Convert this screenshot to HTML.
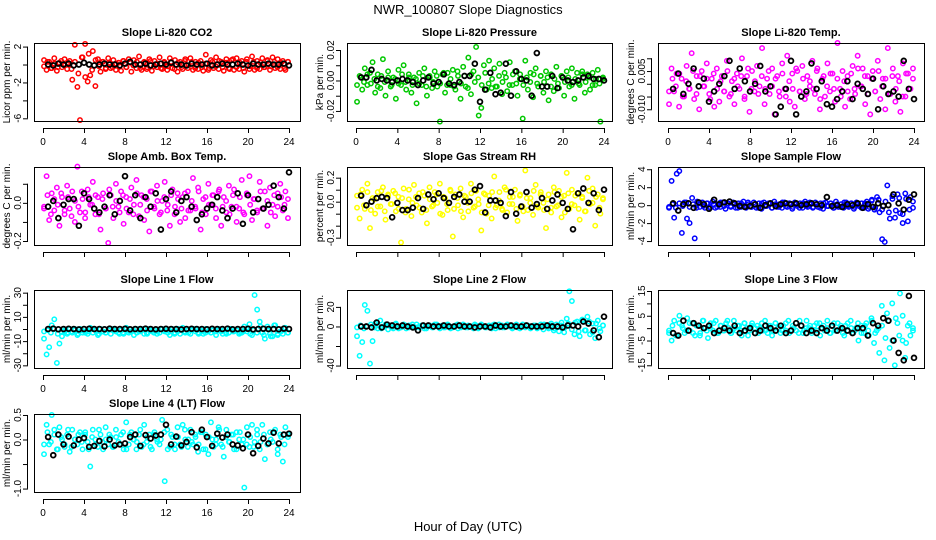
<!DOCTYPE html>
<html><head><meta charset="utf-8"><style>
body{margin:0;background:#fff;}
svg{display:block;font-family:"Liberation Sans",sans-serif;}
</style></head><body>
<svg id="chart" width="936" height="540" xmlns="http://www.w3.org/2000/svg">
<text x="468" y="14" text-anchor="middle" font-size="13">NWR_100807  Slope Diagnostics</text>
<text x="468" y="531" text-anchor="middle" font-size="13">Hour of Day (UTC)</text>
</svg>
<script>
const titles=["Slope Li-820 CO2","Slope Li-820 Pressure","Slope Li-820 Temp.","Slope Amb. Box Temp.","Slope Gas Stream RH","Slope Sample Flow","Slope Line 1 Flow","Slope Line 2 Flow","Slope Line 3 Flow","Slope Line 4 (LT) Flow"];
const yTitles=["Licor ppm per min.","kPa per min.","degrees C per min.","degrees C per min.","percent per min.","ml/min per min.","ml/min per min.","ml/min per min.","ml/min per min.","ml/min per min."];
const colors=["#ff0000","#00c800","#ff00ff","#ff00ff","#ffff00","#0000ff","#00ffff","#00ffff","#00ffff","#00ffff"];
const scales=[1,0.001,0.001,0.01,0.01,1,1,1,1,1];
const yLims=[[-6.3,2.4],[-0.0266,0.0246],[-0.0146,0.016],[-0.221,0.188],[-0.361,0.289],[-4.44,4.25],[-32.2,32.2],[-42.5,37.3],[-16.1,15.4],[-1.07,0.52]];
const yTicks=[[-6,-4,-2,0,2],[-0.02,-0.01,0,0.01,0.02],[-0.01,-0.005,0,0.005,0.01],[-0.2,-0.1,0,0.1],[-0.3,-0.2,-0.1,0,0.1,0.2],[-4,-2,0,2,4],[-30,-20,-10,0,10,20,30],[-40,-20,0,20],[-15,-10,-5,0,5,10,15],[-1,-0.5,0,0.5]];
const yTickLabels=[["-6","","-2","","2"],["-0.02","","0.00","","0.02"],["-0.010","","","0.005",""],["-0.2","","0.0",""],["-0.3","","","0.0","","0.2"],["-4","-2","0","2","4"],["-30","","-10","","10","","30"],["-40","","0","20"],["-15","","-5","","5","","15"],["-1.0","","0.0","0.5"]];
const xTicks=[0,4,8,12,16,20,24];
const colored=[
[0.5,-0.6,0.3,-0.4,0.7,-0.7,0.2,-0.3,0.6,-0.5,0.4,-1.7,2.2,-2.5,-6.2,0.8,2.3,-1.9,-1.2,1.5,-2.4,0.6,-0.8,0.3,-0.5,0.7,-0.4,0.5,-0.6,0.2,-0.7,0.4,-0.3,0.6,-0.8,0.5,-0.4,0.9,-0.6,0.3,-0.5,0.6,-0.7,0.4,-0.3,0.8,-0.5,0.2,-0.6,0.7,-0.4,0.5,-0.8,0.3,-0.5,0.6,-0.4,0.7,-0.6,0.3,-0.5,0.4,-0.7,1.1,-0.6,0.5,-0.4,0.8,-0.5,0.3,-0.7,0.6,-0.4,0.5,-0.6,0.7,-0.5,0.4,-0.8,0.6,-0.5,0.9,-0.6,0.4,-0.5,0.7,-0.3,0.5,-0.6,0.8,-0.4,0.6,-0.5,0.4,-0.6,0.3],
[-14,3,-6,8,-3,5,12,-8,4,-5,14,-10,6,-4,2,-12,7,-3,10,-6,4,-8,2,-15,5,-3,8,-10,3,-5,6,-4,-27,4,-8,5,-3,7,-6,3,-12,9,-4,15,-9,6,22,-23,-18,10,-6,13,-5,8,-4,11,-9,5,-7,12,-3,6,-10,4,-25,13,-6,5,-11,8,-4,3,-8,6,-13,4,-7,9,-5,3,-10,6,-4,8,-12,5,-3,6,-8,4,-6,5,-3,7,-27,2],
[-8,6,-3,4,-9,2,-5,7,-2,12,-6,3,-10,5,-1,8,-4,2,-9,6,-7,3,-3,9,-5,1,-8,4,-2,10,-6,3,-11,5,-3,7,-1,14,-8,2,-4,6,-12,3,-5,8,-2,11,-7,4,-9,5,-3,7,-6,3,-1,9,-4,6,-10,2,-5,8,-3,4,-7,16,-2,5,-9,3,-6,7,-4,11,-1,6,-8,3,-12,5,-3,9,-6,2,-10,14,-4,6,-7,3,-11,8,-5,4,-2,6],
[-2,14,-9,5,-4,8,-12,3,-6,9,-3,6,-10,19,-5,2,-8,7,-1,11,-6,3,-14,5,-3,-21,4,-8,10,-2,6,-11,3,-5,8,-1,12,-7,4,-9,2,-15,6,-3,9,-6,1,11,-4,-12,7,-2,5,-10,3,-8,6,-4,13,-3,8,-14,2,-6,10,-1,4,-8,6,-12,3,-5,9,-2,7,-10,-3,12,-6,4,14,-9,2,-5,11,-3,6,-12,8,-1,-7,5,10,-4,6,-8],
[5,-14,10,-6,15,-22,3,-10,8,-4,12,-15,6,-2,9,-8,4,-34,11,-6,2,-12,14,-3,7,-9,5,-18,12,-4,8,-1,15,-11,3,-7,10,-29,6,-3,11,-13,4,-8,15,-5,9,-2,-24,7,-10,5,-14,21,-3,8,-6,12,-9,4,-2,10,-16,6,-4,26,-7,3,-11,14,-5,8,-1,-22,6,-9,12,-4,9,-13,5,24,-6,10,-3,7,-15,4,-8,20,-2,11,-20,6,-10,3],
[-0.3,2.7,-1.4,3.5,3.8,-3.1,0.3,-1.5,-2.0,0.8,-3.7,0.4,-0.2,0.3,-0.3,0.2,-0.2,0.4,-0.3,0.1,-0.2,0.3,-0.4,0.2,-0.1,0.3,-0.3,0.2,-0.2,0.4,-0.3,0.1,-0.2,0.3,-0.3,0.2,-0.4,0.3,-0.1,0.2,-0.3,0.4,-0.2,0.1,-0.3,0.3,-0.2,0.2,-0.4,0.3,-0.1,0.2,-0.3,0.4,-0.2,0.1,-0.3,0.3,-0.2,0.2,-0.4,0.3,-0.1,0.2,-0.3,0.4,-0.2,0.1,-0.3,0.3,-0.2,0.2,-0.4,0.3,-0.1,0.2,-0.3,0.4,-0.2,0.6,-0.5,0.9,-0.8,-3.8,-4.1,2.2,-1.5,0.7,-1.4,1.2,-0.9,-2.0,1.3,-1.8,0.9,-0.3],
[-8,-21,-15,3,8,-28,-12,-6,-2,-4,0,-3,-1,-5,0,-3,-2,-4,1,-3,-1,-5,0,-2,-3,-1,-4,0,-2,-3,-1,-4,1,-3,-2,-5,0,-2,-1,-4,-3,0,-2,-1,-4,-3,0,-2,-1,-5,0,-3,-2,-4,1,-3,-1,-4,0,-2,-3,-1,-4,0,-2,-3,-1,-5,0,-2,-1,-4,-3,0,-2,-1,-4,-3,2,-2,4,-5,28,16,6,-3,-8,2,-4,-6,3,-5,-2,-4,1,-3],
[-10,-30,-16,22,16,-38,-15,3,-2,6,-1,2,-3,1,-2,3,0,-1,2,-2,1,0,-1,2,-1,1,-2,0,1,-1,2,0,-2,1,-1,2,0,-1,1,-2,0,2,-1,1,0,-2,1,-1,2,0,-1,1,-2,2,0,-1,1,-1,2,0,-2,1,-1,0,2,-1,1,-2,0,1,-1,2,-3,1,-2,3,-4,2,-5,4,-6,8,36,26,-8,5,-10,7,-4,10,-8,3,-12,6,-5,1],
[-1,-5,3,-3,5,1,-2,4,-1,2,-3,1,-2,3,0,-4,2,-1,3,-2,1,-1,2,0,-2,3,-1,1,-3,2,0,-1,2,-2,1,0,-1,3,-2,1,-1,2,0,-2,1,-1,3,-1,0,2,-2,1,-1,3,0,-2,1,-1,2,0,-1,3,-2,1,-1,2,0,-2,1,-1,3,-2,0,-5,1,-2,2,-3,4,-6,-1,-10,9,-13,6,-8,10,-15,2,14,-5,-12,1,-3,0],
[-0.3,0.3,-0.1,0.5,0.2,-0.2,0.25,0,-0.15,0.1,-0.25,0.2,0,-0.1,0.15,-0.2,0.1,-0.05,-0.55,0.2,0,-0.15,0.1,-0.2,0.25,-0.1,0.05,-0.15,0.2,-0.05,0.1,-0.2,0.35,-0.1,0.15,0,-0.2,0.1,-0.15,0.3,-0.05,0.1,-0.2,0.15,0,-0.1,0.4,-0.85,0.2,-0.15,0.05,-0.2,0.25,-0.1,0.3,0,-0.15,0.2,-0.1,0.05,-0.25,0.15,-0.2,0.1,-0.3,0.35,-0.15,0,0.25,-0.1,-0.35,0.2,-0.05,0.1,-0.2,0.15,0,-0.1,-0.98,0.25,-0.15,0.3,-0.05,0.1,-0.2,0.3,-0.4,-0.1,0.15,-0.05,0.2,-0.3,0.1,-0.45,0.25,0.05]
];
// second dense set of samples (band core)
const colored2=[
[-0.2,0.3,-0.4,0.1,-0.3,0.4,-0.1,0.2,-0.5,0.3,-1.0,0.8,-1.4,1.2,-0.6,0.5,-0.2,0.3,-0.4,0.2,-0.3,0.1,-0.2,0.4,-0.3,0.2,-0.1,0.3,-0.4,0.2,-0.3,0.4,-0.2,0.1,-0.4,0.3,-0.2,0.3,-0.5,0.2,-0.3,0.4,-0.1,0.3,-0.4,0.2,-0.3,0.1,-0.4,0.3,-0.2,0.4,-0.3,0.2,-0.5,0.6,-0.3,0.2,-0.4,0.3,-0.2,0.3,-0.4,0.2,-0.3,0.4,-0.2,0.3,-0.3,0.2,-0.4,0.3],
[-3,2,-1,4,-2,1,-4,3,-1,2,-3,1,-2,4,-1,2,-3,1,-2,3,-4,2,-1,3,-2,5,-3,1,-4,6,-2,3,-5,4,-1,2,-3,5,-2,1,-4,3,-1,2,-3,4,-2,1,-3,2,-1,4,-2,3,-1,2,-4,1,-2,3,-1,2,-3,1,-2,4,-1,2,-3,1,-2,1],
[-3,2,-1,4,-5,1,-2,5,-4,3,-1,2,-6,4,-2,1,-3,5,-4,2,-1,3,-5,6,-2,1,-4,3,-2,5,-1,2,-3,4,-5,1,-2,6,-3,2,-4,1,-2,5,-6,3,-1,4,-2,2,-5,1,-3,4,-2,6,-1,3,-4,2,-3,5,-1,2,-4,3,-2,1,-5,4,-2,2],
[-3,4,-6,2,-1,5,-4,3,-7,1,-2,6,-5,3,-1,4,-6,2,-3,7,-2,1,-5,4,-3,2,-6,5,-1,3,-4,6,-2,1,-5,3,-1,4,-6,2,-3,5,-4,1,-2,6,-5,3,-1,4,-3,7,-2,1,-6,4,-2,3,-5,5,-1,2,-4,6,-3,1,-5,4,-2,3,-1,2],
[-5,6,-3,8,-7,2,-4,9,-8,5,-2,7,-6,3,-9,10,-1,4,-5,8,-7,2,-3,6,-10,4,-2,9,-6,3,-8,5,-1,7,-4,2,-9,6,-3,8,-5,1,-7,10,-2,4,-6,5,-8,3,-1,9,-4,6,-7,2,-5,8,-3,4,-9,7,-2,5,-6,3,-8,9,-1,4,-5,2],
[-0.2,0.1,-0.3,0.2,-0.1,0.3,-0.2,0.1,-0.3,0.2,-0.1,0.2,-0.3,0.1,-0.2,0.3,-0.1,0.2,-0.2,0.1,-0.3,0.2,-0.1,0.3,-0.2,0.1,-0.3,0.2,-0.1,0.2,-0.3,0.1,-0.2,0.3,-0.1,0.2,-0.2,0.1,-0.3,0.2,-0.1,0.3,-0.2,0.1,-0.3,0.2,-0.1,0.2,-0.3,0.1,-0.2,0.3,-0.1,0.2,-0.2,0.1,-0.3,0.2,-0.4,0.5,-0.3,0.6,-0.5,0.4,-0.8,1.0,-0.6,0.8,-1.0,0.7,-0.5,0.4],
[-2,-1,-3,0,-4,-2,-1,-3,-2,0,-4,-1,-3,-2,0,-1,-4,-2,-3,0,-1,-2,-4,-3,0,-2,-1,-3,-2,0,-4,-1,-3,-2,0,-1,-3,-2,-4,0,-1,-2,-3,-1,0,-4,-2,-3,-1,0,-2,-1,-4,-3,0,-2,-1,-3,-2,0,-4,-1,-3,2,-5,0,-6,3,-4,-2,1,-3],
[-1,1,-2,0,2,-1,1,-2,0,1,-1,2,-2,0,1,-1,2,-1,0,1,-2,1,-1,2,0,-1,1,-2,0,2,-1,1,-1,0,2,-2,1,-1,0,1,-2,2,-1,0,1,-1,2,-2,0,1,-1,1,-2,0,2,-1,1,-2,0,1,-1,3,-3,4,-5,6,-4,5,-6,3,-2,1],
[-2,1,-3,2,0,-1,2,-2,1,-3,3,-1,0,2,-2,1,-1,3,-2,0,1,-1,2,-3,1,0,-2,2,-1,1,-3,2,0,-1,2,-2,1,-1,3,-2,0,1,-1,2,-3,1,0,-2,2,-1,1,-3,2,0,-1,2,-2,1,-1,3,-2,0,1,-4,3,-5,4,-3,5,-6,2,-1],
[-0.1,0.15,-0.05,0.1,-0.2,0.05,-0.1,0.2,-0.15,0,0.1,-0.05,0.15,-0.2,0.05,-0.1,0.2,-0.05,0,0.1,-0.15,0.05,-0.1,0.15,-0.2,0.1,0,-0.05,0.2,-0.1,0.05,-0.15,0.1,-0.05,0,0.15,-0.2,0.1,-0.1,0.05,-0.15,0.2,0,-0.05,0.1,-0.1,0.15,-0.2,0.05,0,-0.1,0.2,-0.15,0.05,-0.05,0.1,-0.2,0.15,0,-0.1,0.05,-0.15,0.2,-0.05,0.1,-0.1,0,0.15,-0.2,0.05,-0.1,0.1]
];
const black=[
[0,-0.1,0.1,0,0.1,-0.1,0,0.2,0,-0.1,0,0.1,0,0,-0.1,0.1,0.3,0,0,0.1,-0.1,0,0.1,0,0.2,0,0,-0.1,0.1,0,0,0.1,-0.1,0,0.1,0,0,0.1,0,-0.1,0.1,0,0,0.1,0,0,0.1,-0.1],
[2,2,7,0,1,0,-1,0,1,0,-1,-3,0,2,-2,-1,4,-2,-3,-1,3,3,11,-14,-6,5,-9,-8,11,-10,6,1,0,-10,18,-4,-4,3,-5,2,0,-1,0,2,3,1,1,0],
[-2,4,-4,0,6,-1,2,-7,-3,0,3,9,-2,6,1,-3,0,7,-3,-1,-12,-9,-2,9,-12,-5,-3,8,-2,1,-8,-9,-6,-3,1,-6,0,-2,-4,2,-10,-1,-4,-3,-5,9,-2,-6],
[-2,1,-8,-1,2,2,-12,5,2,-3,-5,-2,4,-6,1,14,-4,4,-8,3,-2,5,-14,2,6,-5,1,3,-2,-9,-6,-3,-1,3,-4,-8,-3,5,-11,4,-5,2,-3,-1,9,3,-3,16],
[5,-3,0,3,4,3,-13,-1,-7,-7,-5,3,-6,6,2,7,3,-1,4,6,0,0,10,13,-9,1,1,-1,-12,8,-10,-4,8,-5,-2,3,-6,1,6,-1,-6,-23,7,11,-1,7,-7,10],
[0.2,-0.6,0.1,0.2,-0.3,0.3,0.1,-0.4,0.6,0.1,0.3,0.4,0.2,-0.1,-0.2,-0.1,0.1,-0.3,0,0.2,-0.1,0.1,0.2,0.1,0.2,0,0.1,0.2,0.1,0,0.9,-0.1,0,-0.2,0.1,0,0.2,-0.3,0.1,-0.2,0.2,-0.1,0,1.2,0.2,-0.5,0.6,1.2],
[0,0.3,-0.2,0,0.2,0,-0.3,0,0.2,0,0,-0.2,0.3,0,0,0.2,-0.2,0,0,0.3,0,-0.2,0,0.2,0,0,-0.3,0,0.2,0,0,-0.2,0.2,0,0,0.3,-0.2,0,0,0.2,-0.3,0,0.2,0,0,-0.2,0.3,0],
[0,0,-1,4,-1,2,1,0,1,0,-1,-4,1,1,0,0,1,0,0,1,0,0,-1,0,0,-1,1,0,0,1,0,0,1,0,0,0,1,0,0,-1,1,1,0,5,3,-4,-11,10],
[-2,-3,3,-1,2,1,0,1,-2,-1,0,-1,1,-2,-1,0,-2,-1,1,0,-1,1,-2,-1,2,1,-2,-1,-2,0,-1,1,-1,0,-1,-2,0,0,-3,2,1,4,3,-5,-10,-13,13,-12],
[0.05,-0.32,0.1,-0.1,0.06,-0.12,0,0.03,-0.15,-0.13,-0.03,-0.14,0,-0.12,-0.1,-0.08,0.05,0.1,-0.13,0.09,0.02,0.08,0.1,0.3,-0.1,0.06,-0.12,-0.05,0.15,-0.16,0.2,0.05,-0.13,0.12,0.04,0.1,-0.1,-0.12,-0.18,0.1,-0.28,-0.13,0.02,-0.08,0.14,-0.08,0.1,0.12]
];
const showXLabels=[true,true,true,false,false,false,true,false,false,true];

const NS="http://www.w3.org/2000/svg";
const svg=document.getElementById('chart');
const colBox=[[34,300],[347,612],[658,924]];
const colX=[[43,289],[356,604],[668,914]];
const rowTop=[43,167,290,414];
const H=78;
function mk(tag,attrs,parent){const e=document.createElementNS(NS,tag);for(const k in attrs)e.setAttribute(k,attrs[k]);(parent||svg).appendChild(e);return e;}

titles.forEach((t,p)=>{
  const c=p%3,r=Math.floor(p/3);
  const [bl,br]=colBox[c],[x0,x24]=colX[c];
  const top=rowTop[r],bot=top+H;
  const [ymin,ymax]=yLims[p];
  const xs=h=>x0+(x24-x0)*h/24;
  const ys=v=>bot-(v-ymin)/(ymax-ymin)*H;
  const g=mk('g',{});
  
  
  const tt=mk('text',{x:(bl+br)/2,y:top-7,'text-anchor':'middle','font-size':11,'font-weight':'bold'},g);
  tt.textContent=t;
  
  
  const yt=mk('text',{transform:`translate(${bl-24},${(top+bot)/2}) rotate(-90)`,'text-anchor':'middle','font-size':10},g);
  yt.textContent=yTitles[p];
  
  
  [colored2[p],colored[p]].forEach(arr=>{
    const n=arr.length;
    arr.forEach((v,i)=>{
      const h=0.1+i*23.8/(n-1);
      const cc=mk('circle',{cx:xs(h),cy:ys(v*scales[p]),r:2.2,fill:'none',stroke:colors[p],'stroke-width':1.5},g);
      
      
    });
  });
  const m=black[p].length;
  black[p].forEach((v,i)=>{
    const h=0.5+i*23.5/(m-1);
    const cc=mk('circle',{cx:xs(h),cy:ys(v*scales[p]),r:2.4,fill:'none',stroke:'#000','stroke-width':1.8},g);
    
    
  });
  const box=mk('rect',{x:bl+0.5,y:top+0.5,width:br-bl,height:H,fill:'none',stroke:'#000','stroke-width':1},g);
  
  
  mk('line',{x1:xs(0),x2:xs(24),y1:bot+7.5,y2:bot+7.5,stroke:'#000'},g);
  xTicks.forEach(h=>{
    mk('line',{x1:xs(h)+0.5,x2:xs(h)+0.5,y1:bot+7,y2:bot+12,stroke:'#000'},g);
    if(showXLabels[p]){const l=mk('text',{x:xs(h),y:bot+24,'text-anchor':'middle','font-size':10},g);l.textContent=String(h);
      
      }
  });
  const yt0=yTicks[p];
  mk('line',{x1:bl-6.5,x2:bl-6.5,y1:ys(yt0[0]),y2:ys(yt0[yt0.length-1]),stroke:'#000'},g);
  yt0.forEach((v,i)=>{
    mk('line',{x1:bl-11,x2:bl-6,y1:ys(v)+0.5,y2:ys(v)+0.5,stroke:'#000'},g);
    const s=yTickLabels[p][i];
    if(s){const l=mk('text',{transform:`translate(${bl-13},${ys(v)}) rotate(-90)`,'text-anchor':'middle','font-size':10},g);l.textContent=s;
      
      }
  });
});
</script>
</body></html>
